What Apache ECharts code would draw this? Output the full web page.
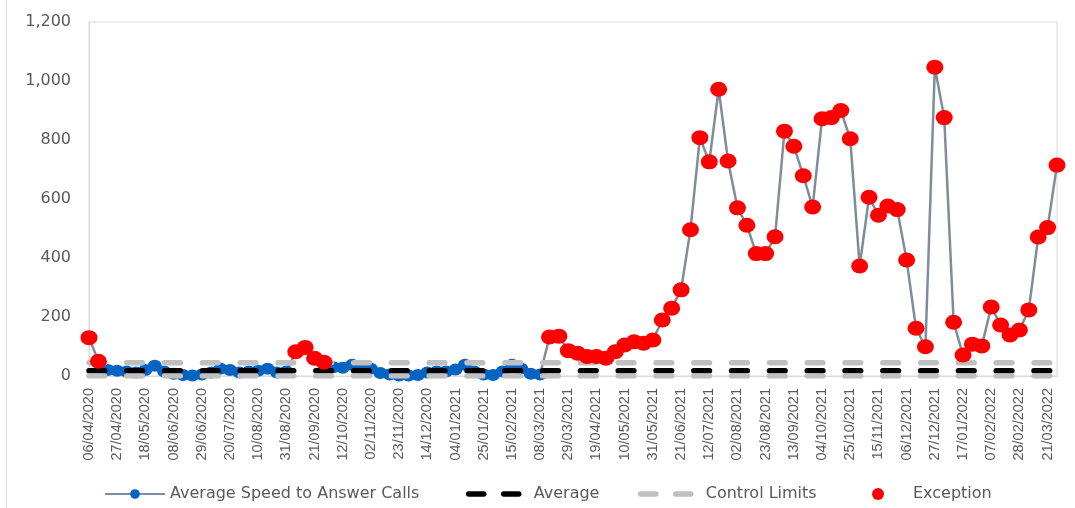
<!DOCTYPE html>
<html>
<head>
<meta charset="utf-8">
<script src="https://cdn.jsdelivr.net/npm/echarts@6/dist/echarts.min.js"></script>
<style>
  html, body { margin: 0; padding: 0; background: #fff; }
  #chart { width: 1075px; height: 508px; }
</style>
</head>
<body>
<div id="chart"></div>
<script>
// weekly categories, 06/04/2020 .. 28/03/2022
const firstWeek = Date.UTC(2020, 3, 6);
const weekCount = 104;
const weeks = [];
for (let i = 0; i < weekCount; i++) {
    const d = new Date(firstWeek + i * 7 * 86400000);
    const dd = String(d.getUTCDate()).padStart(2, '0');
    const mm = String(d.getUTCMonth() + 1).padStart(2, '0');
    weeks.push(dd + '/' + mm + '/' + d.getUTCFullYear());
}

// average speed to answer calls (seconds)
const answerSpeed = [
    130, 50, 20, 18, 15, 12, 20, 35, 15, 8,
    3, 2, 5, 12, 25, 20, 12, 15, 18, 25,
    12, 15, 82, 97, 60, 47, 30, 28, 38, 28,
    25, 10, 5, 2, 2, 3, 12, 15, 15, 22,
    38, 15, 5, 3, 15, 38, 25, 8, 5, 132,
    135, 86, 77, 66, 66, 60, 82, 105, 116, 111,
    122, 190, 230, 292, 496, 808, 726, 972, 729, 570,
    511, 415, 415, 472, 830, 779, 679, 573, 872, 876,
    900, 804, 373, 606, 545, 576, 564, 393, 162, 99,
    1047, 876, 182, 71, 108, 102, 234, 173, 139, 156,
    224, 471, 503, 715
];

const averageValue = 18;
const upperLimit = 45;
const lowerLimit = 0;

const yTicks = [0, 200, 400, 600, 800, 1000, 1200];

const averageLine = weeks.map(() => averageValue);
const uclLine = weeks.map(() => upperLimit);
const lclLine = weeks.map(() => lowerLimit);
const exceptions = answerSpeed.map(v => (v > upperLimit || v < lowerLimit) ? v : '-');

const dash = [15.7, 22.1];
const legendText = {fontFamily: 'DejaVu Sans', fontSize: 16, color: '#595959'};

// one legend per entry so each sits where the original puts it
const legendAt = (left, item) => ({
    left: left,
    top: 481,
    itemWidth: 60,
    itemHeight: 12,
    textStyle: legendText,
    data: [item]
});

const chart = echarts.init(document.getElementById('chart'));
chart.setOption({
    animation: false,
    graphic: [{
        type: 'line',
        shape: {x1: 6.5, y1: 0, x2: 6.5, y2: 508},
        style: {stroke: '#d9d9d9', lineWidth: 1}
    }],
    grid: {
        left: 89,
        right: 18,
        top: 22,
        bottom: 132,
        show: true,
        borderColor: '#d9d9d9',
        borderWidth: 1
    },
    legend: [
        legendAt(99, 'Average Speed to Answer Calls'),
        legendAt(461, {
            name: 'Average',
            itemStyle: {opacity: 0},
            lineStyle: {width: 5.5, type: [15, 20], cap: 'round'}
        }),
        legendAt(633, {
            name: 'Control Limits',
            itemStyle: {opacity: 0},
            lineStyle: {width: 5.5, type: [15, 20], cap: 'round'}
        }),
        legendAt(867, {name: 'Exception', icon: 'circle'})
    ],
    xAxis: {
        type: 'category',
        data: weeks,
        boundaryGap: false,
        axisLine: {lineStyle: {color: '#d9d9d9'}},
        axisTick: {show: false},
        splitLine: {show: false},
        axisLabel: {
            interval: 2,
            rotate: 90,
            margin: 12,
            fontFamily: 'Liberation Sans',
            fontSize: 14.5,
            color: '#595959'
        }
    },
    yAxis: {
        type: 'value',
        min: yTicks[0],
        max: yTicks[yTicks.length - 1],
        interval: 200,
        axisLine: {show: true, lineStyle: {color: '#d9d9d9'}},
        axisTick: {show: false},
        splitLine: {show: false},
        axisLabel: {
            margin: 18,
            fontFamily: 'DejaVu Sans',
            fontSize: 16,
            color: '#595959',
            formatter: v => v.toLocaleString('en-US')
        }
    },
    series: [
        {
            name: 'Average Speed to Answer Calls',
            type: 'line',
            data: answerSpeed,
            z: 2,
            symbol: 'circle',
            symbolSize: [14, 12],
            showAllSymbol: true,
            lineStyle: {color: '#7d8d9c', width: 2.5},
            itemStyle: {color: '#0563c1'}
        },
        {
            name: 'Average',
            type: 'line',
            data: averageLine,
            z: 3,
            symbol: 'none',
            lineStyle: {color: '#000', width: 5.5, type: dash, cap: 'round'},
            itemStyle: {color: '#000'}
        },
        {
            name: 'Control Limits',
            type: 'line',
            data: uclLine,
            z: 4,
            symbol: 'none',
            lineStyle: {color: '#bfbfbf', width: 5.5, type: dash, cap: 'round'},
            itemStyle: {color: '#bfbfbf'}
        },
        {
            name: 'Control Limits',
            type: 'line',
            data: lclLine,
            z: 4,
            symbol: 'none',
            lineStyle: {color: '#bfbfbf', width: 5.5, type: dash, cap: 'round'},
            itemStyle: {color: '#bfbfbf'}
        },
        {
            name: 'Exception',
            type: 'scatter',
            data: exceptions,
            z: 5,
            symbol: 'circle',
            symbolSize: [17, 15],
            itemStyle: {color: '#ff0000', opacity: 1}
        }
    ]
});
</script>
</body>
</html>
